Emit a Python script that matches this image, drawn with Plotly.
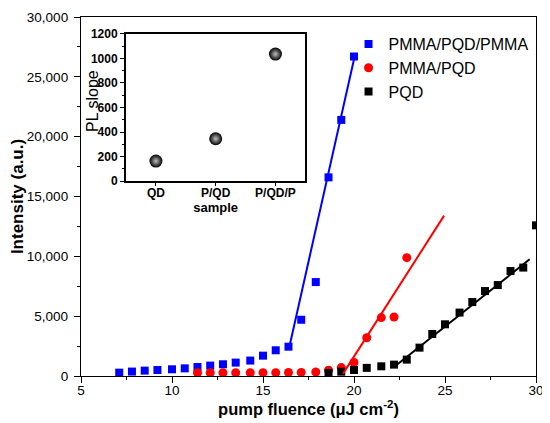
import plotly.graph_objects as go

# main data: intensity vs pump fluence
ppp_x = [7.1, 7.8, 8.5, 9.2, 10.0, 10.7, 11.4, 12.1, 12.8, 13.5, 14.3, 15.0,
         15.7, 16.4, 17.1, 17.9, 18.6, 19.3, 20.0]
ppp_y = [280, 370, 450, 500, 560, 640, 750, 870, 980, 1120, 1290, 1700,
         2150, 2450, 4700, 7850, 16600, 21400, 26700]

pp_x = [11.4, 12.1, 12.8, 13.5, 14.3, 15.0, 15.7, 16.4, 17.1, 17.9, 18.6,
        19.3, 20.0, 20.7, 21.5, 22.2, 22.9]
pp_y = [270, 270, 270, 270, 270, 280, 280, 290, 300, 330, 480,
        700, 1130, 3200, 4880, 4930, 9890]

pqd_x = [18.6, 19.3, 20.0, 20.7, 21.5, 22.2, 22.9, 23.6, 24.3, 25.0, 25.8,
         26.5, 27.2, 27.9, 28.6, 29.3, 30.0]
pqd_y = [250, 360, 500, 680, 810, 950, 1370, 2370, 3510, 4320, 5300,
         6180, 7100, 7600, 8770, 9060, 12590]

# linear fits above threshold (end points)
fit_ppp_x = [16.45, 20.05]
fit_ppp_y = [2450, 26800]
fit_pp_x = [19.4, 24.95]
fit_pp_y = [200, 13400]
fit_pqd_x = [22.2, 29.65]
fit_pqd_y = [750, 9750]

# inset data
samples = ["QD", "P/QD", "P/QD/P"]
pl_slope = [163, 345, 1035]

FONT = "Liberation Sans, Arial, sans-serif"

fig = go.Figure()

fig.add_trace(go.Scatter(x=ppp_x, y=ppp_y, mode="markers", name="PMMA/PQD/PMMA",
                         marker=dict(symbol="square", size=8, color="#0000ff")))
fig.add_trace(go.Scatter(x=pp_x, y=pp_y, mode="markers", name="PMMA/PQD",
                         marker=dict(symbol="circle", size=9, color="#ff0000")))
fig.add_trace(go.Scatter(x=pqd_x, y=pqd_y, mode="markers", name="PQD",
                         marker=dict(symbol="square", size=8, color="black")))

fig.add_trace(go.Scatter(x=fit_ppp_x, y=fit_ppp_y, mode="lines", showlegend=False,
                         line=dict(color="#0000ff", width=2)))
fig.add_trace(go.Scatter(x=fit_pp_x, y=fit_pp_y, mode="lines", showlegend=False,
                         line=dict(color="#ff0000", width=2)))
fig.add_trace(go.Scatter(x=fit_pqd_x, y=fit_pqd_y, mode="lines", showlegend=False,
                         line=dict(color="black", width=2)))

# inset
fig.add_trace(go.Scatter(x=samples, y=pl_slope, mode="markers", showlegend=False,
                         xaxis="x2", yaxis="y2",
                         marker=dict(size=13, color="black",
                                     gradient=dict(type="radial", color="#bdbdbd"))))

# the page body adds an 8px margin, so the figure is a bit smaller than the window
fig.update_layout(
    width=542, height=415,
    margin=dict(l=73, r=14, t=9, b=47),
    paper_bgcolor="white", plot_bgcolor="white",
    font=dict(family=FONT, color="black", size=13.5),
    showlegend=True,
    legend=dict(x=0.588, y=0.972, xanchor="left", yanchor="top",
                font=dict(size=16), bgcolor="rgba(0,0,0,0)"),
    xaxis=dict(
        range=[5, 30], dtick=5, showgrid=False, zeroline=False, automargin=False,
        showline=True, linecolor="black", linewidth=1.3, mirror=True,
        ticks="outside", ticklen=6, tickwidth=1.2, tickcolor="black",
        ticklabelstandoff=-4,
        minor=dict(dtick=2.5, ticks="outside", ticklen=3, tickcolor="black"),
        title=dict(text="<b>pump fluence (\u03bcJ cm<sup>-2</sup>)</b>",
                   font=dict(size=16.5), standoff=6),
    ),
    yaxis=dict(
        range=[0, 30000], dtick=5000, tickformat=",d", showgrid=False,
        zeroline=False, showline=True, linecolor="black", linewidth=1.3,
        automargin=False, ticklabelstandoff=3,
        mirror=True, ticks="outside", ticklen=6, tickwidth=1.2, tickcolor="black",
        minor=dict(dtick=2500, ticks="outside", ticklen=3, tickcolor="black"),
        title=dict(text="<b>Intensity (a.u.)</b>", font=dict(size=17), standoff=2),
    ),
    xaxis2=dict(
        domain=[0.099, 0.493], anchor="y2", type="category", range=[-0.5, 2.5],
        showgrid=False, zeroline=False, showline=True, linecolor="black",
        automargin=False, ticklabelstandoff=-3,
        linewidth=2, mirror=True, ticks="outside", ticklen=3, tickcolor="black",
        tickfont=dict(size=12, weight="bold"),
        title=dict(text="<b>sample</b>", font=dict(size=13), standoff=3),
    ),
    yaxis2=dict(
        domain=[0.543, 0.953], anchor="x2", range=[0, 1200], dtick=200,
        showgrid=False, zeroline=False, showline=True, linecolor="black",
        automargin=False,
        linewidth=2, mirror=True, ticks="outside", ticklen=4, tickcolor="black",
        minor=dict(dtick=100, ticks="outside", ticklen=2, tickcolor="black"),
        tickfont=dict(size=12, weight="bold"),
    ),
    annotations=[dict(text="PL slope", textangle=-90, showarrow=False,
                      xref="paper", yref="paper", x=0.024, y=0.766,
                      xanchor="center", yanchor="middle", font=dict(size=16))],
)

fig.write_html("out.html")
